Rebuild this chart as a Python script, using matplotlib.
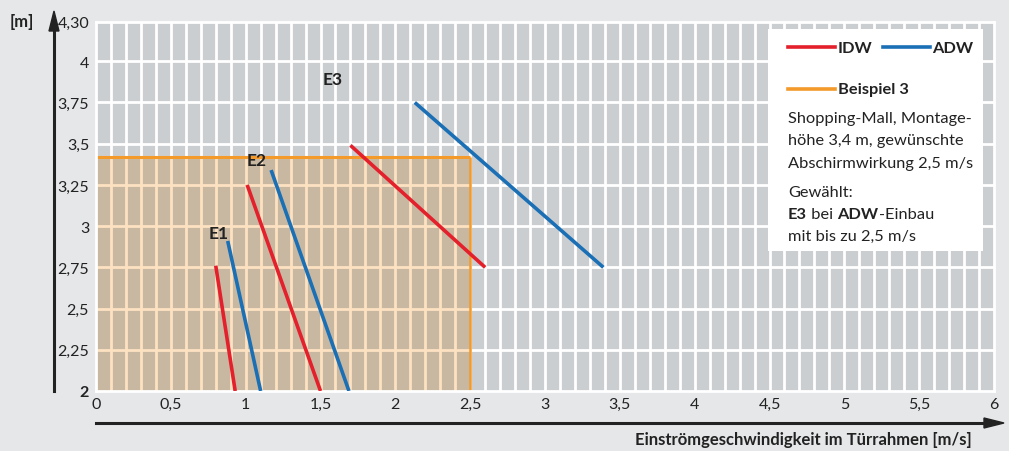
import numpy as np
import matplotlib.pyplot as plt
from matplotlib.patches import Rectangle

plt.rcParams['font.family'] = ['Lato', 'DejaVu Sans']

# --- data ---------------------------------------------------------------
# each curve: (x_start, y_start) -> (x_end, y_end)
idw_x = [[0.80, 0.93], [1.01, 1.50], [1.70, 2.60]]
idw_y = [[2.76, 2.00], [3.25, 2.00], [3.49, 2.75]]
adw_x = [[0.88, 1.10], [1.17, 1.69], [2.13, 3.39]]
adw_y = [[2.91, 2.00], [3.34, 2.00], [3.75, 2.75]]
curve_names = ['E1', 'E2', 'E3']
name_x = [0.82, 1.07, 1.58]
name_y = [2.96, 3.40, 3.89]

beispiel_v = 2.5      # m/s
beispiel_h = 3.42     # m

x_ticks = [0, 0.5, 1, 1.5, 2, 2.5, 3, 3.5, 4, 4.5, 5, 5.5, 6]
x_labels = ['0', '0,5', '1', '1,5', '2', '2,5', '3', '3,5', '4', '4,5', '5', '5,5', '6']
y_ticks = [2, 2.25, 2.5, 2.75, 3, 3.25, 3.5, 3.75, 4, 4.24]
y_labels = ['2', '2,25', '2,5', '2,75', '3', '3,25', '3,5', '3,75', '4', '4,30']

RED = '#e3202b'
BLUE = '#1a6fb5'
ORANGE = '#f39a2b'
BG = '#e6e7e9'
CELL = '#cbced1'
FILL = '#c8b8a2'
FILL_GRID = '#fde2c2'
TXT = '#222222'

W, H = 1009, 452
fig = plt.figure(figsize=(W / 100, H / 100), dpi=100, facecolor=BG)


def px(x, y):
    return x / W, 1 - y / H


ax_l, ax_r, ax_t, ax_b = 96, 994, 22.7, 392
ax = fig.add_axes([ax_l / W, 1 - ax_b / H, (ax_r - ax_l) / W, (ax_b - ax_t) / H])
ax.set_facecolor(CELL)
ax.set_xlim(0, 6)
ax.set_ylim(2, 4.24)

# white grid
for gx in np.arange(0.1, 6.0, 0.1):
    ax.axvline(gx, color='white', lw=2, zorder=1)
for gy in np.arange(2.25, 4.1, 0.25):
    ax.axhline(gy, color='white', lw=2, zorder=1)

# example region
ax.add_patch(Rectangle((0, 2), beispiel_v, beispiel_h - 2, facecolor=FILL,
                       edgecolor='none', zorder=1.5))
ax.vlines(np.arange(0.1, beispiel_v - 0.01, 0.1), 2, beispiel_h,
          color=FILL_GRID, lw=2, zorder=1.6)
ax.hlines(np.arange(2.25, beispiel_h, 0.25), 0, beispiel_v,
          color=FILL_GRID, lw=2, zorder=1.6)
ax.hlines(beispiel_h, 0, beispiel_v, color=ORANGE, lw=2.2, zorder=2)
ax.vlines(beispiel_v, 2, beispiel_h, color=ORANGE, lw=1.8, zorder=2)

# curves
for i in range(3):
    ax.plot(idw_x[i], idw_y[i], color=RED, lw=2.6, solid_capstyle='butt', zorder=3)
    ax.plot(adw_x[i], adw_y[i], color=BLUE, lw=2.6, solid_capstyle='butt', zorder=3)
    ax.text(name_x[i], name_y[i], curve_names[i], fontsize=12.5, fontweight='bold',
            color=TXT, ha='center', va='center', zorder=4)

for s in ax.spines.values():
    s.set_color('white')
    s.set_linewidth(2)

ax.set_xticks(x_ticks)
ax.set_xticklabels(x_labels)
ax.set_yticks(y_ticks)
ax.set_yticklabels(y_labels)
ax.tick_params(length=0, labelsize=11.5, colors=TXT)
ax.tick_params(axis='x', pad=4)
ax.tick_params(axis='y', pad=5)
ax.get_yticklabels()[0].set_fontweight('bold')

# legend box (figure pixel coords)
fig.patches.append(Rectangle(px(768, 252), 215 / W, 222 / H, facecolor='white',
                             edgecolor='none', transform=fig.transFigure, zorder=5))


def hline(x0, x1, y, c):
    fig.add_artist(plt.Line2D([x0 / W, x1 / W], [1 - y / H, 1 - y / H],
                              color=c, lw=2.6, zorder=6))


hline(788, 835, 48, RED)
hline(883, 930, 48, BLUE)
hline(788, 835, 90, ORANGE)
kw = dict(fontsize=11.8, color=TXT, va='center', zorder=6)
fig.text(*px(838, 49), 'IDW', fontweight='bold', **kw)
fig.text(*px(932, 49), 'ADW', fontweight='bold', **kw)
fig.text(*px(838, 90), 'Beispiel 3', fontweight='bold', **kw)
body = ['Shopping-Mall, Montage-', 'höhe 3,4 m, gewünschte', 'Abschirmwirkung 2,5 m/s']
for k, line in enumerate(body):
    fig.text(*px(788, 119 + k * 22.5), line, **kw)
fig.text(*px(788, 193), 'Gewählt:', **kw)
fig.text(*px(788, 237), 'mit bis zu 2,5 m/s', **kw)

# mixed bold/regular line, placed run after run
renderer = fig.canvas.get_renderer()
xcur = 788
for part, wgt in [('E3', 'bold'), (' bei ', 'normal'), ('ADW', 'bold'), ('-Einbau', 'normal')]:
    t = fig.text(*px(xcur, 215), part, fontweight=wgt, **kw)
    xcur += t.get_window_extent(renderer).width

# axis arrows
fig.add_artist(plt.Line2D([54 / W, 54 / W], [1 - 392 / H, 1 - 30 / H],
                          color=TXT, lw=2.2))
fig.patches.append(plt.Polygon([px(54, 12), px(49, 32), px(59, 32)], closed=True,
                               color=TXT, transform=fig.transFigure))
fig.add_artist(plt.Line2D([96 / W, 985 / W], [1 - 424 / H, 1 - 424 / H],
                          color=TXT, lw=2.2))
fig.patches.append(plt.Polygon([px(1004, 424), px(984, 419), px(984, 429)], closed=True,
                               color=TXT, transform=fig.transFigure))
fig.text(*px(10, 22), '[m]', fontsize=12, fontweight='bold', color=TXT, va='center')
fig.text(*px(972, 440), 'Einströmgeschwindigkeit im Türrahmen [m/s]', fontsize=12,
         fontweight='bold', color=TXT, ha='right', va='center')

fig.savefig('out.png', dpi=100, facecolor=BG)
